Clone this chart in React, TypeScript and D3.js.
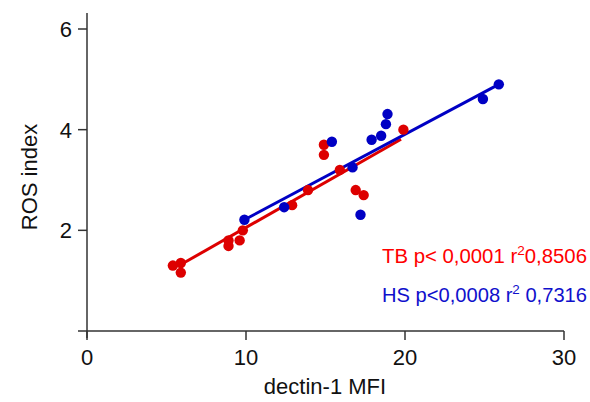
import * as d3 from 'd3'

// dectin-1 MFI vs ROS index
const tbX = [5.4, 5.9, 5.9, 8.9, 8.9, 9.6, 9.8, 12.9, 13.9, 14.9, 14.9, 15.9, 16.9, 17.4, 19.9]
const tbY = [1.3, 1.35, 1.16, 1.8, 1.69, 1.8, 2.0, 2.5, 2.8, 3.7, 3.5, 3.2, 2.8, 2.7, 4.0]
const hsX = [9.9, 12.4, 15.4, 16.7, 17.2, 17.9, 18.5, 18.8, 18.9, 24.9, 25.9]
const hsY = [2.21, 2.46, 3.76, 3.25, 2.31, 3.8, 3.88, 4.11, 4.31, 4.61, 4.9]

// fitted regression lines (end points)
const tbFitX = [5.85, 19.75]
const tbFitY = [1.31, 3.81]
const hsFitX = [9.9, 25.9]
const hsFitY = [2.21, 4.9]

const xTicks = [0, 10, 20, 30]
const yTicks = [2, 4, 6]
const tbLabel = ['TB p< 0,0001 r', '2', '0,8506']
const hsLabel = ['HS p<0,0008 r', '2', ' 0,7316']

const RED = '#dd0000'
const BLUE = '#0000c4'
const AXIS = '#333333'
const FONT = 'Liberation Sans, Arial, sans-serif'

function App() {
  const width = 590
  const height = 402

  const x = d3.scaleLinear().domain([0, 30]).range([87, 564])
  const y = d3.scaleLinear().domain([0, 6]).range([331, 29])

  const line = d3.line<[number, number]>()
    .x(d => x(d[0]))
    .y(d => y(d[1]))

  const tbFit = tbFitX.map((v, i) => [v, tbFitY[i]] as [number, number])
  const hsFit = hsFitX.map((v, i) => [v, hsFitY[i]] as [number, number])

  return (
    <svg width={width} height={height} style={{ position: 'absolute', left: 0, top: 0, background: '#fff' }} fontFamily={FONT}>
      {/* axes */}
      <line x1={x(0)} x2={x(0)} y1={13} y2={y(0) + 7} stroke={AXIS} strokeWidth={1.5} />
      <line x1={x(0) - 9} x2={x(30)} y1={y(0)} y2={y(0)} stroke={AXIS} strokeWidth={1.5} />
      {yTicks.map(t => (
        <g key={'y' + t}>
          <line x1={x(0) - 9} x2={x(0)} y1={y(t)} y2={y(t)} stroke={AXIS} strokeWidth={1.5} />
          <text x={x(0) - 15} y={y(t)} dy="0.36em" textAnchor="end" fontSize={22} fill="#111">{t}</text>
        </g>
      ))}
      {xTicks.map(t => (
        <g key={'x' + t}>
          <line x1={x(t)} x2={x(t)} y1={y(0)} y2={y(0) + 9} stroke={AXIS} strokeWidth={1.5} />
          <text x={x(t)} y={365} textAnchor="middle" fontSize={22} fill="#111">{t}</text>
        </g>
      ))}
      <text x={325} y={394} textAnchor="middle" fontSize={22} fill="#111">dectin-1 MFI</text>
      <text transform="translate(37,177) rotate(-90)" textAnchor="middle" fontSize={22} fill="#111">ROS index</text>

      {/* regression lines */}
      <path d={line(tbFit) || ''} fill="none" stroke={RED} strokeWidth={3} />
      <path d={line(hsFit) || ''} fill="none" stroke={BLUE} strokeWidth={3} />

      {/* points */}
      {tbX.map((v, i) => (
        <circle key={'tb' + i} cx={x(v)} cy={y(tbY[i])} r={5.2} fill={RED} />
      ))}
      {hsX.map((v, i) => (
        <circle key={'hs' + i} cx={x(v)} cy={y(hsY[i])} r={5.2} fill={BLUE} />
      ))}

      {/* legend */}
      <text x={382} y={263} fontSize={19.5} fill="#ff0000" textLength={205} lengthAdjust="spacingAndGlyphs">
        {tbLabel[0]}
        <tspan fontSize={13} dy={-8}>{tbLabel[1]}</tspan>
        <tspan dy={8}>{tbLabel[2]}</tspan>
      </text>
      <text x={382} y={302} fontSize={19.5} fill="#1010cc" textLength={205} lengthAdjust="spacingAndGlyphs">
        {hsLabel[0]}
        <tspan fontSize={13} dy={-8}>{hsLabel[1]}</tspan>
        <tspan dy={8}>{hsLabel[2]}</tspan>
      </text>
    </svg>
  )
}

export default App
